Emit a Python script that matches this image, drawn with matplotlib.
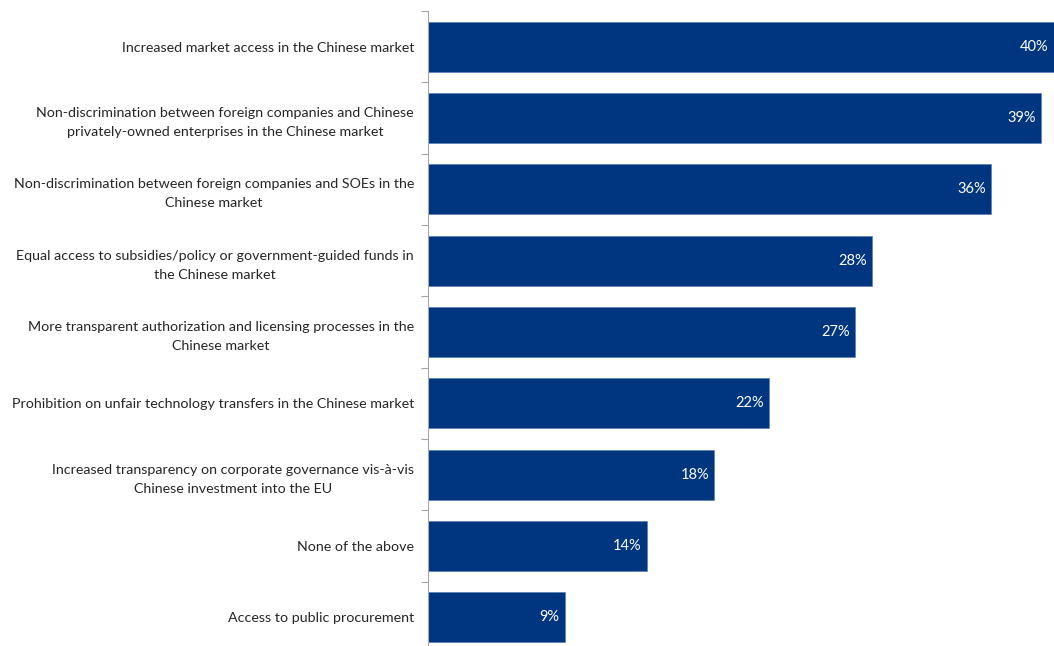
import numpy as np
import matplotlib.pyplot as plt

plt.rcParams['font.family'] = ['Lato', 'DejaVu Sans']

labels = [
    "Increased market access in the Chinese market",
    "Non-discrimination between foreign companies and Chinese\nprivately-owned enterprises in the Chinese market",
    "Non-discrimination between foreign companies and SOEs in the\nChinese market",
    "Equal access to subsidies/policy or government-guided funds in\nthe Chinese market",
    "More transparent authorization and licensing processes in the\nChinese market",
    "Prohibition on unfair technology transfers in the Chinese market",
    "Increased transparency on corporate governance vis-à-vis\nChinese investment into the EU",
    "None of the above",
    "Access to public procurement",
]
values = [40.0, 39.2, 36.0, 28.4, 27.3, 21.8, 18.3, 14.0, 8.75]

bar_color = '#003580'
text_color = '#262626'

fig = plt.figure(figsize=(10.54, 6.46), dpi=100)
ax = fig.add_axes([0.406, -0.0108, 0.594, 0.9938])

y = np.arange(len(values))
ax.barh(y, values, height=0.70, color=bar_color, edgecolor='#5b7fb5', linewidth=0.5)
for yi, v in zip(y, values):
    ax.text(v - 0.35, yi, f"{v:.0f}%", color='white', ha='right', va='center', fontsize=10.5)

ax.set_xlim(0, 40)
ax.set_ylim(len(values) - 0.5, -0.5)
ax.set_yticks(y)
ax.set_yticklabels(labels, fontsize=10.25, color=text_color, multialignment='center', linespacing=1.7)
ax.tick_params(axis='y', which='major', length=0, pad=10)
ax.set_yticks(np.arange(len(values) + 1) - 0.5, minor=True)
ax.tick_params(axis='y', which='minor', length=5, color='#a6a6a6', width=0.8)
ax.set_xticks([])
for s in ['top', 'right', 'bottom']:
    ax.spines[s].set_visible(False)
ax.spines['left'].set_color('#a6a6a6')
ax.spines['left'].set_linewidth(0.8)

fig.savefig('out.png', dpi=100)
